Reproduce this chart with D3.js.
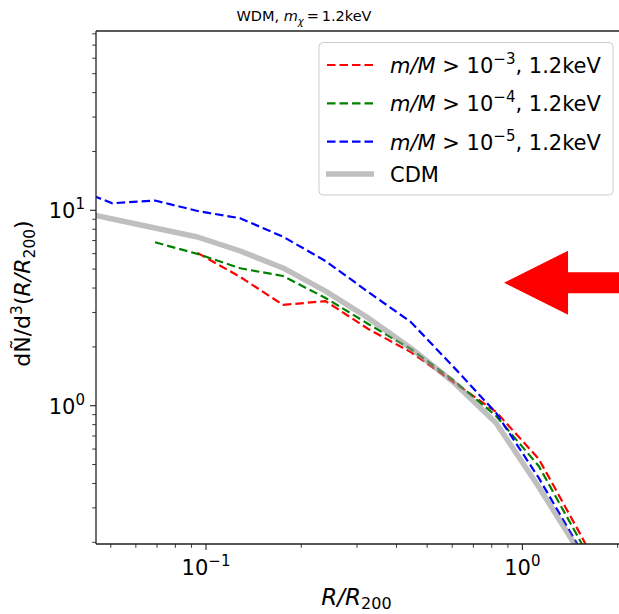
<!DOCTYPE html>
<html><head><meta charset="utf-8">
<script src="https://cdn.jsdelivr.net/npm/d3@7"></script>
<style>
html,body{margin:0;padding:0;background:#fff;}
svg text{font-family:"DejaVu Sans",sans-serif;fill:#000;}
</style></head>
<body>
<svg id="chart" width="619" height="614"></svg>
<script>
// ---- data ----
const radii = [0.0371,0.0506,0.0690,0.0940,0.1283,0.1750,0.2386,0.3257,0.4441,0.6055,0.8259,1.1266,1.5367,2.0965];
const cdmValues   = [10.03,9.03,8.12,7.30,6.19,5.07,3.86,2.81,1.97,1.32,0.815,0.384,0.172,0.075];
const wdm3Values  = [null,null,null,6.05,4.56,3.28,3.43,2.47,1.88,1.32,0.929,0.534,0.215,0.080];
const wdm4Values  = [null,null,6.86,5.98,5.05,4.61,3.56,2.62,1.95,1.35,0.886,0.491,0.198,0.071];
const wdm5Values  = [13.2,10.86,11.22,9.92,9.10,7.33,5.50,3.82,2.68,1.58,0.918,0.427,0.180,0.063];
const seriesLabels = ["-3","-4","-5"];
const xTickValues = [0.1, 1];
const xTickExponents = ["\u22121","0"];
const yTickValues = [1, 10];
const yTickExponents = ["0","1"];
const arrowTip = {r: 0.875, v: 4.26};

// ---- layout ----
const svg = d3.select("#chart");
const L = 96, R = 619, T = 31, B = 544;
const x = d3.scaleLog().domain([0.0449, 2.02]).range([L, R]);
const y = d3.scaleLog().domain([0.196, 82.7]).range([B, T]);

svg.append("defs").append("clipPath").attr("id","clip")
  .append("rect").attr("x",L).attr("y",T).attr("width",R-L).attr("height",B-T);

const g = svg.append("g").attr("clip-path","url(#clip)");
const mk = vals => radii.map((r,i)=>({r, v: vals[i]}));
const line = d3.line().defined(d=>d.v!=null).x(d=>x(d.r)).y(d=>y(d.v));

const series = [
  {vals: wdm3Values, color:"#ff0000"},
  {vals: wdm4Values, color:"#008000"},
  {vals: wdm5Values, color:"#0000ff"}
];
series.forEach(s=>{
  g.append("path").datum(mk(s.vals)).attr("d",line)
    .attr("fill","none").attr("stroke",s.color).attr("stroke-width",2.2)
    .attr("stroke-dasharray","8.5,4");
});
g.append("path").datum(mk(cdmValues)).attr("d",line)
  .attr("fill","none").attr("stroke","#909090").attr("stroke-opacity",0.58)
  .attr("stroke-width",5.5).attr("stroke-linejoin","round");

// ---- arrow annotation ----
const ax = x(arrowTip.r), ay = y(arrowTip.v);
const arrowPts = [[ax,ay],[ax+64,ay-32],[ax+64,ay-10.5],[R+10,ay-10.5],[R+10,ay+10.5],[ax+64,ay+10.5],[ax+64,ay+32]];
svg.append("polygon").attr("points",arrowPts.map(p=>p.join(",")).join(" ")).attr("fill","#ff0000");

// ---- axes ----
const axG = svg.append("g");
function minorTicks(scale){
  const [a,b] = scale.domain(); const out=[];
  for(let e=Math.floor(Math.log10(a)); e<=Math.ceil(Math.log10(b)); e++){
    for(let m=1;m<10;m++){ const v=m*Math.pow(10,e); if(v>=a&&v<=b) out.push({v, major:m===1}); }
  }
  return out;
}
minorTicks(x).forEach(t=>{
  const px=x(t.v);
  axG.append("line").attr("x1",px).attr("x2",px).attr("y1",B).attr("y2",B+(t.major?6:3.8))
    .attr("stroke","#222").attr("stroke-width",t.major?1.1:0.9);
});
minorTicks(y).forEach(t=>{
  const py=y(t.v);
  axG.append("line").attr("x1",L).attr("x2",L-(t.major?6:3.8)).attr("y1",py).attr("y2",py)
    .attr("stroke","#222").attr("stroke-width",t.major?1.1:0.9);
});
// spines
axG.append("line").attr("x1",L).attr("x2",L).attr("y1",T).attr("y2",B).attr("stroke","#222").attr("stroke-width",1.3);
axG.append("line").attr("x1",L).attr("x2",R).attr("y1",B).attr("y2",B).attr("stroke","#222").attr("stroke-width",1.3);
axG.append("line").attr("x1",L).attr("x2",R).attr("y1",T).attr("y2",T).attr("stroke","#222").attr("stroke-width",1.3);

// tick labels
xTickValues.forEach((v,i)=>{
  const t = axG.append("text").attr("x",x(v)).attr("y",575).attr("text-anchor","middle").attr("font-size",21);
  t.append("tspan").text("10");
  t.append("tspan").attr("dy",-9).attr("font-size",15).text(xTickExponents[i]);
});
yTickValues.forEach((v,i)=>{
  const t = axG.append("text").attr("x",85).attr("y",y(v)+8).attr("text-anchor","end").attr("font-size",21);
  t.append("tspan").text("10");
  t.append("tspan").attr("dy",-9).attr("font-size",15).text(yTickExponents[i]);
});

// axis labels
const xl = svg.append("text").attr("x",(L+R)/2 - 1).attr("y",605).attr("text-anchor","middle").attr("font-size",23);
xl.append("tspan").attr("font-style","italic").text("R/R");
xl.append("tspan").attr("dy",4).attr("font-size",16).text("200");

const yl = svg.append("text").attr("transform",`translate(30,${(T+B)/2 + 6}) rotate(-90)`)
  .attr("text-anchor","middle").attr("font-size",22);
yl.append("tspan").text("d\u00d1/d");
yl.append("tspan").attr("dy",-8).attr("font-size",15.5).text("3");
yl.append("tspan").attr("dy",8).text("(");
yl.append("tspan").attr("font-style","italic").text("R/R");
yl.append("tspan").attr("dy",5).attr("font-size",15.5).text("200");
yl.append("tspan").attr("dy",-5).text(")");

// title
const ti = svg.append("text").attr("x",304).attr("y",21).attr("text-anchor","middle").attr("font-size",14.5);
ti.append("tspan").text("WDM, ");
ti.append("tspan").attr("font-style","italic").text("m");
ti.append("tspan").attr("dy",4).attr("font-size",10).attr("font-style","italic").text("\u03c7");
ti.append("tspan").attr("dy",-4).text("\u2009=\u20091.2keV");

// ---- legend ----
const lg = svg.append("g");
lg.append("rect").attr("x",319).attr("y",42.5).attr("width",294).attr("height",152.5).attr("rx",4)
  .attr("fill","#fff").attr("fill-opacity",0.8).attr("stroke","#cccccc").attr("stroke-width",1);
const rowsY = [65,103.3,141.7,174];
series.forEach((s,i)=>{
  lg.append("line").attr("x1",327).attr("x2",373).attr("y1",rowsY[i]).attr("y2",rowsY[i])
    .attr("stroke",s.color).attr("stroke-width",2.2).attr("stroke-dasharray","8.5,4");
  const t = lg.append("text").attr("x",390).attr("y",rowsY[i]+8).attr("font-size",21);
  t.append("tspan").attr("font-style","italic").text("m/M");
  t.append("tspan").text(" > 10");
  t.append("tspan").attr("dy",-9).attr("font-size",15).text(seriesLabels[i].replace("-","\u2212"));
  t.append("tspan").attr("dy",9).text(", 1.2keV");
});
lg.append("line").attr("x1",326).attr("x2",374).attr("y1",rowsY[3]).attr("y2",rowsY[3])
  .attr("stroke","#909090").attr("stroke-opacity",0.58).attr("stroke-width",5.5);
lg.append("text").attr("x",390).attr("y",rowsY[3]+8).attr("font-size",21).text("CDM");
</script>
</body></html>
